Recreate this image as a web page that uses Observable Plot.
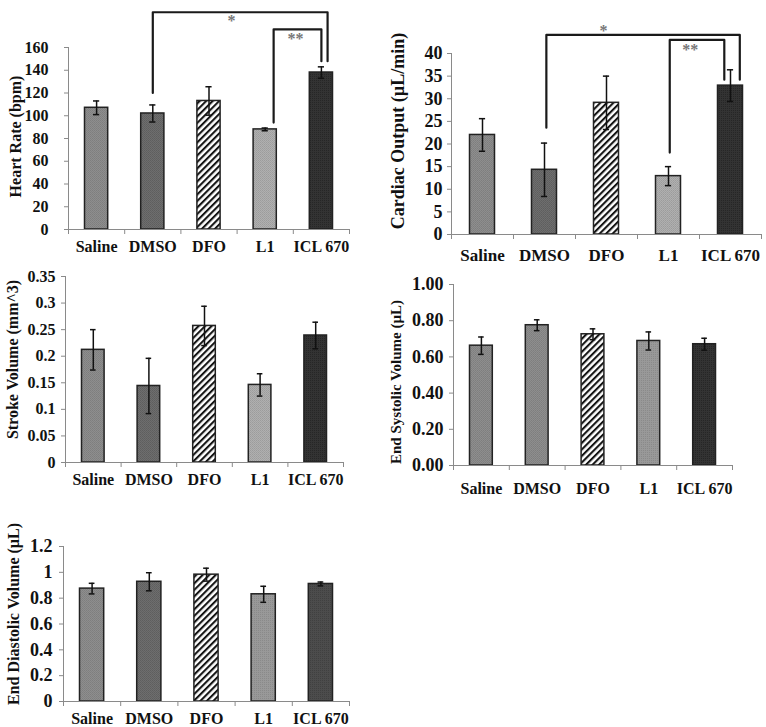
<!DOCTYPE html>
<html><head><meta charset="utf-8">
<script src="https://cdn.jsdelivr.net/npm/d3@7"></script>
<script src="https://cdn.jsdelivr.net/npm/@observablehq/plot@0.6"></script>
<style>
body{margin:0;background:#fff;width:766px;height:727px;position:relative;overflow:hidden;font-family:"Liberation Serif","Times New Roman",serif;}
.panel{position:absolute;}
.panel svg{overflow:visible;}
</style></head><body>
<svg width="0" height="0" style="position:absolute">
<defs>
 <pattern id="hatch" patternUnits="userSpaceOnUse" width="4.6" height="4.6" patternTransform="rotate(45)">
   <rect width="4.6" height="4.6" fill="#fff"/>
   <rect width="2.1" height="4.6" fill="#151515"/>
 </pattern>
 <pattern id="g1" patternUnits="userSpaceOnUse" width="2" height="2"><rect width="2" height="2" fill="#8e8e8e"/><rect width="1" height="1" fill="#7e7e7e"/><rect x="1" y="1" width="1" height="1" fill="#828282"/></pattern>
 <pattern id="g2" patternUnits="userSpaceOnUse" width="2" height="2"><rect width="2" height="2" fill="#6e6e6e"/><rect width="1" height="1" fill="#5e5e5e"/><rect x="1" y="1" width="1" height="1" fill="#626262"/></pattern>
 <pattern id="g3" patternUnits="userSpaceOnUse" width="2" height="2"><rect width="2" height="2" fill="#b0b0b0"/><rect width="1" height="1" fill="#9c9c9c"/><rect x="1" y="1" width="1" height="1" fill="#a2a2a2"/></pattern>
 <pattern id="g4" patternUnits="userSpaceOnUse" width="2" height="2"><rect width="2" height="2" fill="#333"/><rect width="1" height="1" fill="#262626"/></pattern>
 <pattern id="g5" patternUnits="userSpaceOnUse" width="2" height="2"><rect width="2" height="2" fill="#4c4c4c"/><rect width="1" height="1" fill="#404040"/></pattern>
 <pattern id="g6" patternUnits="userSpaceOnUse" width="2" height="2"><rect width="2" height="2" fill="#999"/><rect width="1" height="1" fill="#8a8a8a"/></pattern>
</defs></svg>
<div id="p1" class="panel" style="left:0;top:0"></div>
<div id="p2" class="panel" style="left:383px;top:0"></div>
<div id="p3" class="panel" style="left:0;top:250px"></div>
<div id="p4" class="panel" style="left:383px;top:250px"></div>
<div id="p5" class="panel" style="left:0;top:490px"></div>
<script>
// ---------- data ----------
const categories = ["Saline", "DMSO", "DFO", "L1", "ICL 670"];

const heartRate = [107, 102, 113, 88, 138];
const heartRateErr = [6, 7.5, 12.5, 1.2, 5];
const heartRateTicks = [0, 20, 40, 60, 80, 100, 120, 140, 160];

const cardiacOutput = [22.0, 14.3, 29.1, 12.9, 32.9];
const cardiacOutputErr = [3.6, 5.9, 5.9, 2.1, 3.5];
const cardiacOutputTicks = [0, 5, 10, 15, 20, 25, 30, 35, 40];

const strokeVolume = [0.212, 0.144, 0.257, 0.146, 0.239];
const strokeVolumeErr = [0.038, 0.052, 0.037, 0.021, 0.025];
const strokeVolumeTicks = [0, 0.05, 0.1, 0.15, 0.2, 0.25, 0.3, 0.35];

const endSystolic = [0.662, 0.775, 0.725, 0.688, 0.670];
const endSystolicErr = [0.048, 0.03, 0.03, 0.05, 0.033];
const endSystolicTicks = [0, 0.2, 0.4, 0.6, 0.8, 1.0];

const endDiastolic = [0.874, 0.927, 0.982, 0.830, 0.910];
const endDiastolicErr = [0.041, 0.07, 0.05, 0.062, 0.015];
const endDiastolicTicks = [0, 0.2, 0.4, 0.6, 0.8, 1, 1.2];

// significance brackets (category-band units on x, data units on y)
const heartRateBrackets = [
  {label: "*", x1: 1.5, x2: 4.61, top: 191, leftEnd: 120, rightEnd: 148, tx: 2.9, ty: 186},
  {label: "**", x1: 3.65, x2: 4.5, top: 176, leftEnd: 94, rightEnd: 148, tx: 4.04, ty: 170}
];
const cardiacOutputBrackets = [
  {label: "*", x1: 1.53, x2: 4.65, top: 44.1, leftEnd: 23.6, rightEnd: 34.2, tx: 2.45, ty: 45.6},
  {label: "**", x1: 3.52, x2: 4.4, top: 43.0, leftEnd: 18.1, rightEnd: 34.2, tx: 3.85, ty: 41.5}
];

// ---------- styles ----------
const fillsA = ["url(#g1)", "url(#g2)", "url(#hatch)", "url(#g3)", "url(#g4)"];
const fillsB = ["url(#g1)", "url(#g1)", "url(#hatch)", "url(#g6)", "url(#g4)"];
const fillsC = ["url(#g1)", "url(#g2)", "url(#hatch)", "url(#g6)", "url(#g5)"];

function panel(el, o) {
  const data = o.values.map((v, i) => ({i, v, e: o.errors[i], c: categories[i], f: o.fills[i]}));
  const cap = o.cap;
  const marks = [
    Plot.rectY(data, {x1: d => d.i, x2: d => d.i + 1, y: d => d.v, fill: d => d.f,
      insetLeft: o.inset, insetRight: o.inset, stroke: "#222", strokeWidth: 1.5}),
    Plot.ruleX(data, {x: d => d.i + 0.5, y1: d => d.v - d.e, y2: d => d.v + d.e, stroke: "#111", strokeWidth: 1.5}),
    Plot.ruleY(data, {y: d => d.v + d.e, x1: d => d.i + 0.5 - cap, x2: d => d.i + 0.5 + cap, stroke: "#111", strokeWidth: 1.5}),
    Plot.ruleY(data, {y: d => d.v - d.e, x1: d => d.i + 0.5 - cap, x2: d => d.i + 0.5 + cap, stroke: "#111", strokeWidth: 1.5}),
    Plot.ruleX([0], {stroke: "#8a8a8a", strokeWidth: 1}),
    Plot.ruleY([0], {stroke: "#8a8a8a", strokeWidth: 1}),
    Plot.axisY({ticks: o.ticks, tickFormat: o.fmt, tickSize: 4, tickPadding: o.tickPad, stroke: "#8a8a8a",
      fill: "#111", fontSize: o.fs, fontWeight: "bold", label: null}),
    Plot.axisX({ticks: [0, 1, 2, 3, 4, 5], tickFormat: () => "", tickSize: 5, stroke: "#8a8a8a", label: null}),
    Plot.text(data, {x: d => d.i + 0.5, y: 0, text: d => d.c, dy: o.catDy, lineAnchor: "middle",
      fontSize: o.catFs, fontWeight: "bold", fill: "#111"}),
    Plot.text([o.title], {frameAnchor: "left", rotate: -90, dx: o.titleDx, dy: o.titleDy, lineAnchor: "middle",
      textAnchor: "middle", fontSize: o.titleFs, fontWeight: "bold", fill: "#111"})
  ];
  if (o.brackets) {
    const pts = o.brackets.flatMap((b, k) => [
      {k, x: b.x1, y: b.leftEnd}, {k, x: b.x1, y: b.top}, {k, x: b.x2, y: b.top}, {k, x: b.x2, y: b.rightEnd}
    ]);
    marks.push(Plot.line(pts, {x: "x", y: "y", z: "k", stroke: "#1a1a1a", strokeWidth: 2.2, curve: "linear"}));
    marks.push(Plot.text(o.brackets, {x: "tx", y: "ty", text: "label", fill: "#777", fontSize: 16,
      fontWeight: "bold", lineAnchor: "middle", dy: 3}));
  }
  const chart = Plot.plot({
    width: o.w, height: o.h,
    marginLeft: o.ml, marginRight: o.mr, marginTop: o.mt, marginBottom: o.mb,
    style: {fontFamily: '"Liberation Serif", "Times New Roman", serif', background: "transparent", overflow: "visible"},
    x: {domain: [0, 5]},
    y: {domain: [o.ticks[0], o.ticks[o.ticks.length - 1]]},
    color: {type: "identity"},
    marks
  });
  document.getElementById(el).appendChild(chart);
}

panel("p1", {values: heartRate, errors: heartRateErr, ticks: heartRateTicks, fmt: d => String(d),
  title: "Heart Rate (bpm)", fills: fillsA, brackets: heartRateBrackets,
  w: 383, h: 260, ml: 68, mr: 34, mt: 47, mb: 31, inset: 16.5, cap: 0.055,
  tickPad: 16, fs: 16, catFs: 16, catDy: 17, titleFs: 16, titleDx: -53, titleDy: -2});

panel("p2", {values: cardiacOutput, errors: cardiacOutputErr, ticks: cardiacOutputTicks, fmt: d => String(d),
  title: "Cardiac Output (µL/min)", fills: fillsA, brackets: cardiacOutputBrackets,
  w: 383, h: 265, ml: 68, mr: 5, mt: 53, mb: 31, inset: 18.5, cap: 0.05,
  tickPad: 5, fs: 18, catFs: 17, catDy: 21, titleFs: 18, titleDx: -53, titleDy: -13});

panel("p3", {values: strokeVolume, errors: strokeVolumeErr, ticks: strokeVolumeTicks, fmt: d => String(d),
  title: "Stroke Volume (mm^3)", fills: fillsA,
  w: 383, h: 240, ml: 65, mr: 40, mt: 26, mb: 28, inset: 16.5, cap: 0.05,
  tickPad: 6, fs: 16, catFs: 16, catDy: 17, titleFs: 16, titleDx: -53, titleDy: -10});

panel("p4", {values: endSystolic, errors: endSystolicErr, ticks: endSystolicTicks, fmt: d => d.toFixed(2),
  title: "End Systolic Volume (µL)", fills: fillsB,
  w: 383, h: 250, ml: 70, mr: 34, mt: 34, mb: 35, inset: 16.5, cap: 0.05,
  tickPad: 6, fs: 18, catFs: 16, catDy: 23, titleFs: 15, titleDx: -57, titleDy: 7});

panel("p5", {values: endDiastolic, errors: endDiastolicErr, ticks: endDiastolicTicks, fmt: d => String(d),
  title: "End Diastolic Volume (µL)", fills: fillsC,
  w: 383, h: 237, ml: 63, mr: 34, mt: 56, mb: 26, inset: 16.5, cap: 0.05,
  tickPad: 7, fs: 18, catFs: 16, catDy: 17, titleFs: 16, titleDx: -50, titleDy: -10});
</script>
</body></html>
